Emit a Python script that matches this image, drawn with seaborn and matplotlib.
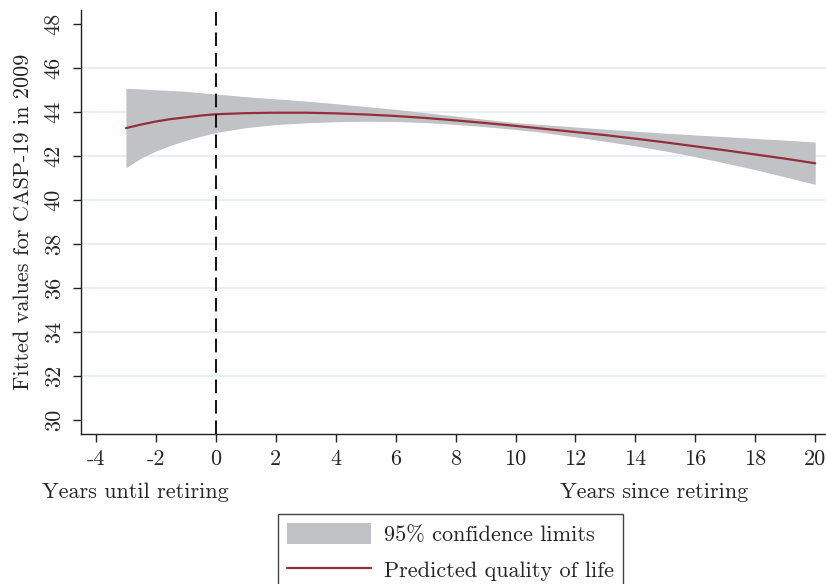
import numpy as np
import pandas as pd
import matplotlib
matplotlib.use("Agg")
import matplotlib.pyplot as plt
import seaborn as sns

# Years relative to retirement and fitted CASP-19 quality-of-life scores
years = [-3, -2.5, -2, -1.5, -1, -0.5, 0, 1, 2, 3, 4, 5, 6, 7, 8, 9, 10,
         11, 12, 13, 14, 15, 16, 17, 18, 19, 20]
predicted = [43.27, 43.43, 43.57, 43.68, 43.76, 43.84, 43.90, 43.95, 43.97,
             43.97, 43.94, 43.89, 43.82, 43.73, 43.62, 43.50, 43.37, 43.23,
             43.09, 42.95, 42.79, 42.62, 42.44, 42.26, 42.07, 41.88, 41.67]
upper_ci = [45.08, 45.05, 45.01, 44.98, 44.94, 44.88, 44.82, 44.70, 44.60,
            44.50, 44.38, 44.25, 44.12, 43.97, 43.82, 43.67, 43.52, 43.42,
            43.32, 43.22, 43.13, 43.04, 42.96, 42.88, 42.80, 42.72, 42.64]
lower_ci = [41.47, 41.90, 42.23, 42.49, 42.71, 42.90, 43.07, 43.29, 43.43,
            43.51, 43.56, 43.58, 43.57, 43.52, 43.44, 43.33, 43.21, 43.06,
            42.87, 42.67, 42.46, 42.23, 41.97, 41.68, 41.38, 41.05, 40.71]
y_ticks = [30, 32, 34, 36, 38, 40, 42, 44, 46, 48]
x_ticks = [-4, -2, 0, 2, 4, 6, 8, 10, 12, 14, 16, 18, 20]

df = pd.DataFrame({"years": years, "predicted": predicted,
                   "upper": upper_ci, "lower": lower_ci})

sns.set_theme(style="white")
plt.rcParams["font.family"] = ["cmr10", "DejaVu Serif"]
plt.rcParams["mathtext.fontset"] = "cm"
plt.rcParams["axes.unicode_minus"] = False
plt.rcParams["axes.formatter.use_mathtext"] = False

FS = 16
band_color = "#c1c2c5"
line_color = "#932f3a"
grid_color = "#e6eff1"

fig = plt.figure(figsize=(8.26, 5.84), dpi=100)
ax = fig.add_axes([81 / 826, 1 - 434 / 584, 1 - 81 / 826, (434 - 10) / 584])

# Horizontal grid at interior ticks
for yv in y_ticks[1:-1]:
    ax.axhline(yv, color=grid_color, lw=1.3, zorder=0)

ax.fill_between(df["years"], df["lower"], df["upper"],
                color=band_color, lw=0, zorder=1,
                label="95% confidence limits")
sns.lineplot(data=df, x="years", y="predicted", ax=ax, color=line_color,
             lw=1.6, zorder=3, label="Predicted quality of life")
ax.axvline(0, color="#111111", lw=1.4, ls=(0, (7, 3.5)), zorder=4)

ax.set_xlim(-4.5, 20.36)
ax.set_ylim(29.36, 48.64)
ax.set_xticks(x_ticks)
ax.set_xticklabels([str(v) for v in x_ticks])
ax.set_yticks(y_ticks)
ax.set_yticklabels([str(v) for v in y_ticks])
ax.set_xlabel("")
ax.set_ylabel("Fitted values for CASP-19 in 2009", fontsize=FS, labelpad=8)

for side in ["top", "right"]:
    ax.spines[side].set_visible(False)
for side in ["left", "bottom"]:
    ax.spines[side].set_color("#222222")
    ax.spines[side].set_linewidth(1.0)

ax.tick_params(axis="both", which="major", direction="out", length=5.5,
               width=1.0, color="#222222", labelsize=FS, pad=6,
               left=True, bottom=True)
ax.tick_params(axis="y", labelrotation=90, pad=7)
for lbl in ax.get_yticklabels():
    lbl.set_va("center")

fig.text(42 / 826, 1 - 492 / 584, "Years until retiring", fontsize=FS,
         ha="left", va="center")
fig.text(560 / 826, 1 - 492 / 584, "Years since retiring", fontsize=FS,
         ha="left", va="center")

handles, labels = ax.get_legend_handles_labels()
if ax.get_legend():
    ax.get_legend().remove()
leg = fig.legend(handles, labels, loc="upper left",
                 bbox_to_anchor=(278 / 826, 1 - 514 / 584),
                 fontsize=FS, frameon=True, fancybox=False,
                 edgecolor="#444444", framealpha=1,
                 handlelength=3.75, handleheight=1.08, handletextpad=0.58,
                 borderpad=0.42, labelspacing=0.6, borderaxespad=0)
leg.get_frame().set_linewidth(1.0)

fig.savefig("out.png", dpi=100)
